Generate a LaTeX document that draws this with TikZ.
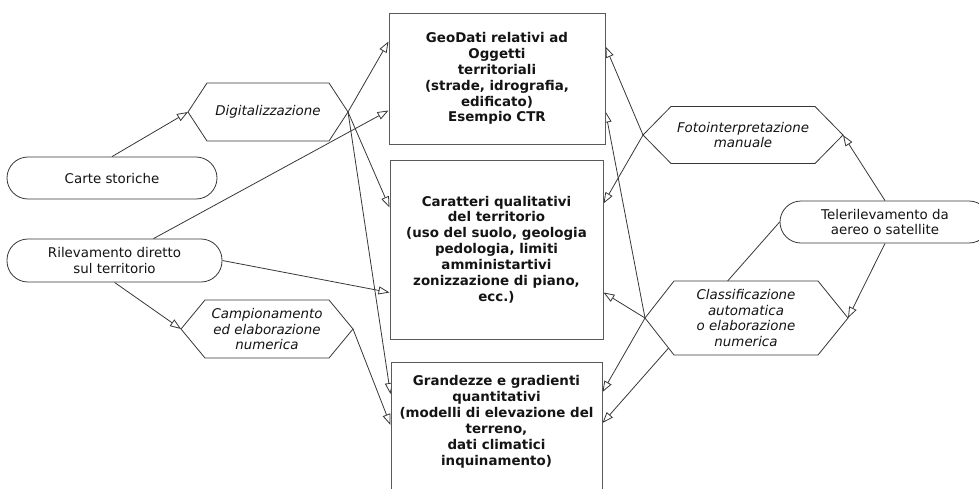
\documentclass[tikz,border=0pt]{standalone}
\usepackage{fontspec}
\setmainfont{DejaVu Sans}
\usetikzlibrary{arrows.meta,calc}
\pgfdeclarelayer{bg}
\pgfsetlayers{bg,main}
\definecolor{linec}{RGB}{55,55,55}
\definecolor{boxc}{RGB}{90,90,90}
\definecolor{txtc}{RGB}{20,20,20}
\newcommand\hexnode[8]{%
  \coordinate (#1-w) at (#2-#5,#3);
  \coordinate (#1-e) at (#2+#6,#3);
  \draw[hexline] (#2-#4,#3-#7) -- (#2+#4,#3-#7) -- (#1-e) -- (#2+#4,#3+#7) -- (#2-#4,#3+#7) -- (#1-w) -- cycle;
  \node[hextext] (#1) at (#2,#3) {#8};
}
\tikzset{
  box/.style={draw=boxc, line width=1pt, fill=white, inner sep=0pt},
  boxtext/.style={align=center, text=txtc, font=\fontsize{13.4}{15.9}\selectfont\bfseries},
  stadium/.style={draw=linec, line width=0.8pt, fill=white, rounded corners=21pt, align=center,
    inner sep=0pt, minimum height=42pt, text=txtc, font=\fontsize{13.4}{15.9}\selectfont},
  hexline/.style={draw=linec, line width=0.8pt, fill=white},
  hextext/.style={align=center, text=txtc, font=\fontsize{13.4}{15.9}\selectfont\itshape},
  conn/.style={draw=linec, line width=0.8pt, -{Triangle[length=11pt,width=8pt,fill=white]}}
}
\begin{document}
\begin{tikzpicture}[x=1pt,y=-1pt]
\useasboundingbox (0,0) rectangle (979,488);
\clip (0,0) rectangle (979,488);

% boxes
\node[box, boxtext, minimum width=216pt, minimum height=131pt] (geo) at (497,78.5)
  {GeoDati relativi ad\\Oggetti\\territoriali\\(strade, idrografia,\\edificato)\\Esempio CTR};
\node[box, boxtext, minimum width=213pt, minimum height=179pt] (car) at (496.5,249.5)
  {Caratteri qualitativi\\del territorio\\(uso del suolo, geologia\\pedologia, limiti\\amministartivi\\zonizzazione di piano,\\ecc.)};
\node[box, minimum width=211pt, minimum height=160pt, anchor=north] (gra) at (496.5,362) {};
\node[boxtext, anchor=north] (gratext) at ($(gra.north)+(0,10)$)
  {Grandezze e gradienti\\quantitativi\\(modelli di elevazione del\\terreno,\\dati climatici\\inquinamento)};

% terminals
\node[stadium, minimum width=210pt] (carte) at (112,178) {Carte storiche};
\node[stadium, minimum width=215pt, minimum height=43pt] (ril) at (114.5,260.5) {Rilevamento diretto\\sul territorio};
\node[stadium, minimum width=210pt] (tele) at (885,222) {Telerilevamento da\\aereo o satellite};

% hexagons
\hexnode{dig}{268}{112}{61}{80}{80}{29}{Digitalizzazione}
\hexnode{camp}{267}{329}{62}{86}{86}{29}{Campionamento\\ed elaborazione\\numerica}
\hexnode{foto}{743}{135}{72}{100}{100}{28.5}{Fotointerpretazione\\manuale}
\hexnode{cla}{746}{318}{72}{101}{102}{37}{Classificazione\\automatica\\o elaborazione\\numerica}

% connectors
\begin{pgfonlayer}{bg}
\draw[conn] (carte.north) -- (dig-w);
\draw[conn] (dig-e) -- ($(geo.north west)+(0,29)$);
\draw[conn] (dig-e) -- ($(car.north west)+(0,48)$);
\draw[conn] (dig-e) -- ($(gra.north west)+(0,32)$);
\draw[conn] ($(ril.north)+(39,0)$) -- ($(geo.north west)+(0,98)$);
\draw[conn] (ril.east) -- ($(car.north west)+(0,133)$);
\draw[conn] (ril.south) -- (camp-w);
\draw[conn] (camp-e) -- ($(gra.north west)+(0,63)$);
\draw[conn] (foto-w) -- ($(geo.north east)+(0,34)$);
\draw[conn] (foto-w) -- ($(car.north east)+(0,44)$);
\draw[conn] (cla-w) -- ($(geo.north east)+(0,99)$);
\draw[conn] (cla-w) -- ($(car.north east)+(0,133)$);
\draw[conn] (cla-w) -- ($(gra.north east)+(0,30)$);
\draw[conn] (tele.north) -- (foto-e);
\draw[conn] (tele.south) -- (cla-e);
\draw[conn] (tele.west) -- ($(gra.north east)+(0,61)$);
\end{pgfonlayer}
\end{tikzpicture}
\end{document}
